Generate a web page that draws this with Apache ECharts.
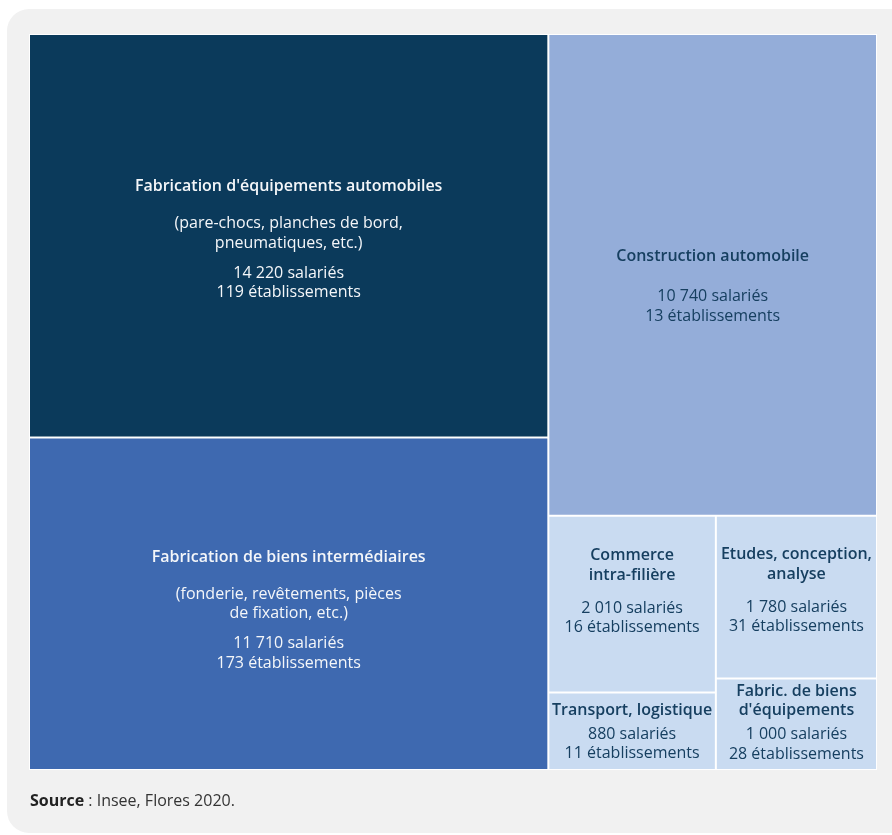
<!DOCTYPE html>
<html>
<head>
<meta charset="utf-8">
<script src="https://cdn.jsdelivr.net/npm/echarts@6/dist/echarts.min.js"></script>
<style>
html,body{margin:0;padding:0;background:#ffffff;}
#chart{width:892px;height:835px;}
</style>
</head>
<body>
<div id="chart"></div>
<script>
// ---- data ----
const categories = [
  "Fabrication d'équipements automobiles",
  "Fabrication de biens intermédiaires",
  "Construction automobile",
  "Commerce\nintra-filière",
  "Transport, logistique",
  "Etudes, conception,\nanalyse",
  "Fabric. de biens\nd'équipements"
];
const details = [
  "(pare-chocs, planches de bord,\npneumatiques, etc.)",
  "(fonderie, revêtements, pièces\nde fixation, etc.)",
  "", "", "", "", ""
];
const salaries = [14220, 11710, 10740, 2010, 880, 1780, 1000];
const etablissements = [119, 173, 13, 16, 11, 31, 28];
const sourceLabel = "Source";
const sourceText = " : Insee, Flores 2020.";

// ---- style ----
const fills = ['#0b3a5b', '#3e69b0', '#94add9', '#c9dbf1', '#c9dbf1', '#c9dbf1', '#c9dbf1'];
const textColors = ['#f4f6f9', '#f4f6f9', '#163f60', '#163f60', '#163f60', '#163f60', '#163f60'];
const titleGaps = [17.5, 17.5, 20.5, 13.5, 4.5, 13.5, 4.5];
const labelShift = [3.5, 7, 12, -13, 1, -7, -1];
const detailGap = 10.5;
const LH = 19.5;
const FS = 16;
const FONT = "'Open Sans', 'Noto Sans', sans-serif";

function fmt(n) { return String(n).replace(/\B(?=(\d{3})+(?!\d))/g, ' '); }

const richBase = {};
function gapStyle(h) {
  const k = 'g' + String(h).replace('.', '_');
  richBase[k] = { fontSize: 1, lineHeight: h, align: 'center' };
  return k;
}

function buildLabel(i) {
  const lines = [];
  let h = 0;
  categories[i].split('\n').forEach(l => { lines.push('{t|' + l + '}'); h += LH; });
  lines.push('{' + gapStyle(titleGaps[i]) + '| }'); h += titleGaps[i];
  if (details[i]) {
    details[i].split('\n').forEach(l => { lines.push('{s|' + l + '}'); h += LH; });
    lines.push('{' + gapStyle(detailGap) + '| }'); h += detailGap;
  }
  lines.push('{s|' + fmt(salaries[i]) + ' salariés}'); h += LH;
  lines.push('{s|' + fmt(etablissements[i]) + ' établissements}'); h += LH;
  return { text: lines.join('\n'), height: h };
}

const labels = categories.map((c, i) => buildLabel(i));

function makeData(pads) {
  return categories.map((c, i) => ({
    name: c,
    value: salaries[i],
    itemStyle: { color: fills[i] },
    label: {
      show: true,
      position: 'inside',
      align: 'center',
      padding: [pads ? pads[i] : 0, 0, 0, 0],
      overflow: 'none',
      formatter: labels[i].text,
      rich: Object.assign({}, richBase, {
        t: { fontFamily: FONT, fontSize: FS, fontWeight: 600, lineHeight: LH, color: textColors[i], align: 'center' },
        s: { fontFamily: FONT, fontSize: FS, fontWeight: 'normal', lineHeight: LH, color: textColors[i], align: 'center' }
      })
    }
  }));
}

const chart = echarts.init(document.getElementById('chart'), null, { renderer: 'canvas' });

const option = {
  animation: false,
  backgroundColor: '#ffffff',
  graphic: [{
    type: 'rect', z: -10, silent: true,
    shape: { x: 7, y: 9, width: 920, height: 824, r: 22 },
    style: { fill: '#f1f1f1' }
  }, {
    type: 'rect', z: -9, silent: true,
    shape: { x: 29, y: 34, width: 848, height: 736 },
    style: { fill: '#ffffff' }
  }],
  title: {
    text: '{b|' + sourceLabel + '}' + sourceText,
    left: 30, top: 793, padding: 0,
    textStyle: {
      fontFamily: FONT, fontSize: FS, fontWeight: 'normal', color: '#333333',
      rich: { b: { fontFamily: FONT, fontSize: FS, fontWeight: 'bold', color: '#222222' } }
    }
  },
  series: [{
    type: 'treemap',
    left: 30, top: 35, width: 846, height: 734,
    sort: false,
    roam: false,
    nodeClick: false,
    breadcrumb: { show: false },
    squareRatio: 0.5 * (1 + Math.sqrt(5)),
    itemStyle: { borderWidth: 0, gapWidth: 0, borderColor: '#ffffff' },
    levels: [
      { itemStyle: { borderWidth: 0, gapWidth: 2, borderColor: '#ffffff' } },
      { itemStyle: { borderWidth: 0, gapWidth: 0 } }
    ],
    data: makeData(null)
  }]
};

chart.setOption(option);

// center labels vertically using the layout computed by ECharts
try {
  const tree = chart.getModel().getSeriesByIndex(0).getData().tree;
  const pads = categories.map(() => 0);
  tree.root.children.forEach(node => {
    const i = categories.indexOf(node.name);
    const lay = node.getLayout();
    if (i >= 0 && lay) {
      const free = lay.height - labels[i].height;
      pads[i] = Math.max(0, Math.min(free, Math.round(free / 2 + labelShift[i])));
    }
  });
  chart.setOption({ series: [{ data: makeData(pads) }] });
} catch (e) { console.error(e); }
</script>
</body>
</html>
